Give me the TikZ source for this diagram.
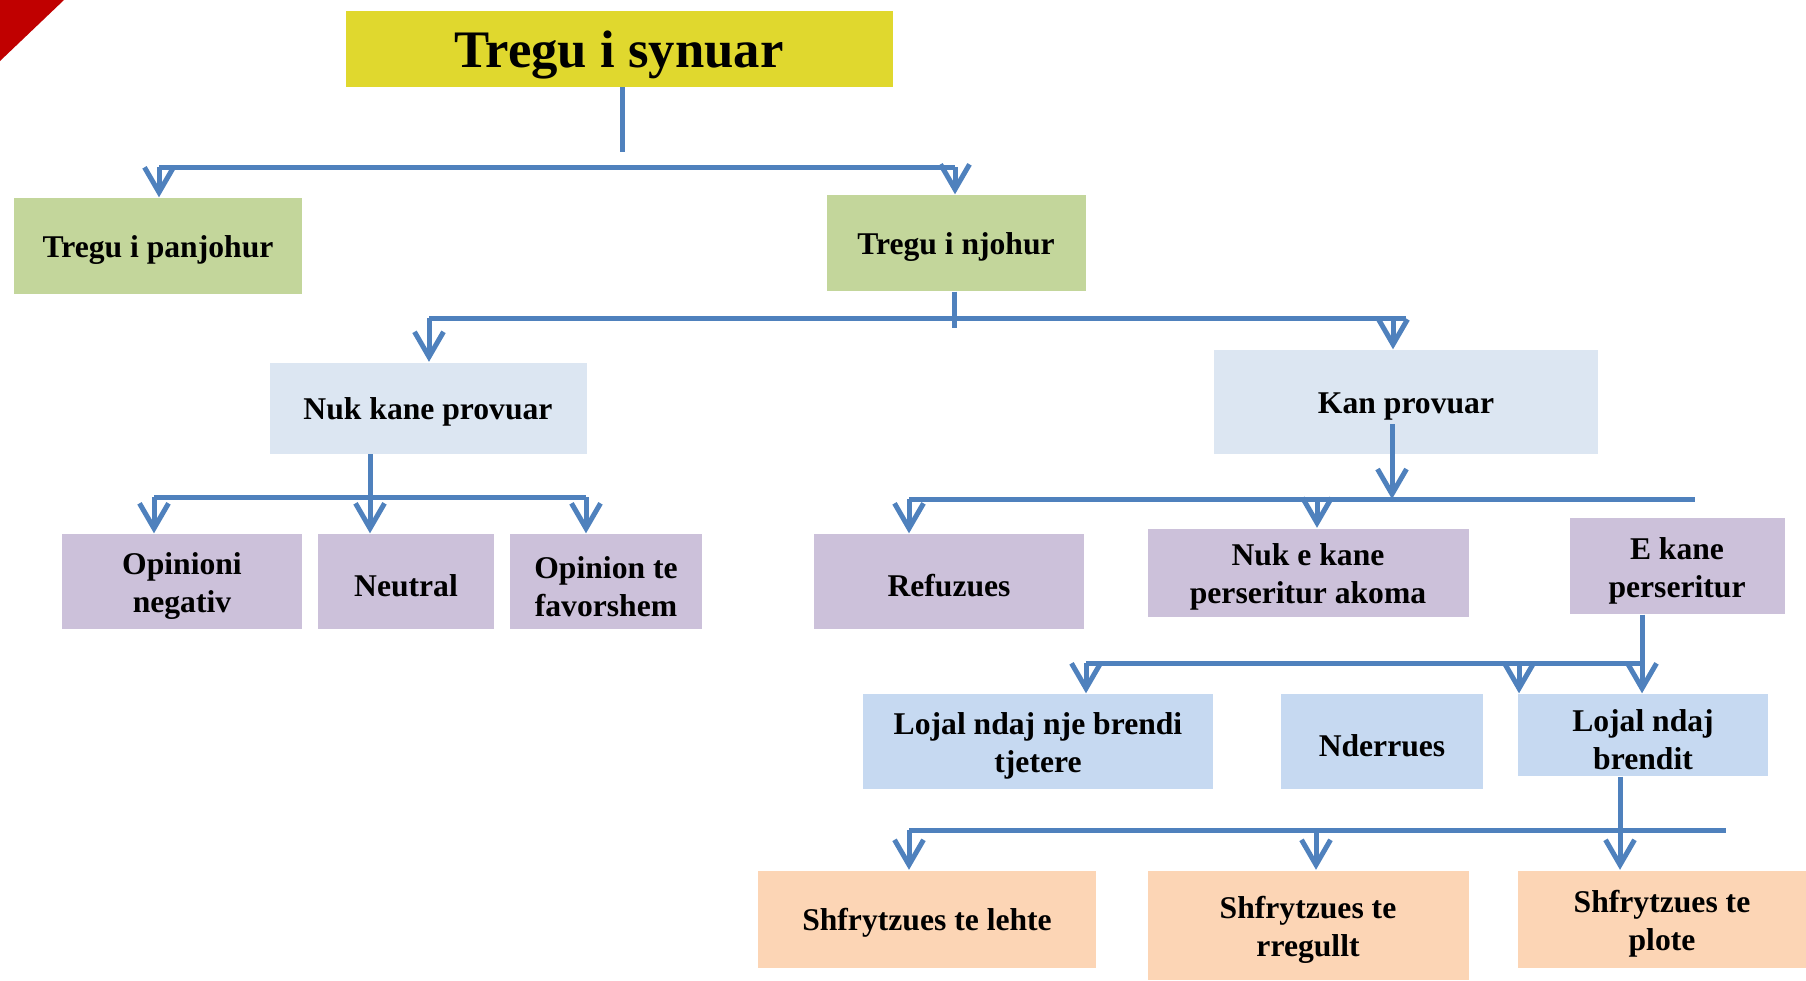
\documentclass[tikz,border=0pt]{standalone}
\usepackage{fontspec}
\setmainfont{Liberation Serif}
\usepackage{tikz}
\usetikzlibrary{arrows.meta}
\definecolor{lineblue}{RGB}{79,129,189}
\definecolor{titleyellow}{RGB}{224,216,46}
\definecolor{olivegreen}{RGB}{195,214,155}
\definecolor{paleblue}{RGB}{220,230,242}
\definecolor{lilac}{RGB}{204,193,218}
\definecolor{skyblue}{RGB}{198,217,241}
\definecolor{peach}{RGB}{252,213,181}
\definecolor{cornerred}{RGB}{192,0,0}
\newcommand\lift{\rule{0pt}{1em}}

\begin{document}
\begin{tikzpicture}[x=0.1mm, y=-0.1mm,
  box/.style={rectangle, inner sep=0pt, align=center,
              execute at begin node={\rule{0pt}{0.95em}},
              font=\fontsize{9}{10.8}\selectfont\bfseries},
  top/.style={box, fill=titleyellow, font=\fontsize{15}{18}\selectfont\bfseries},
  market/.style={box, fill=olivegreen},
  tried/.style={box, fill=paleblue},
  opin/.style={box, fill=lilac},
  loyal/.style={box, fill=skyblue},
  user/.style={box, fill=peach},
  ln/.style={line width=0.5mm, draw=lineblue},
  arr/.style={-{Straight Barb[length=2.5mm, width=2.9mm]}, line width=0.5mm, draw=lineblue}
]
\useasboundingbox (0,0) rectangle (1806,980);
\fill[cornerred] (0,0) -- (64,0) -- (0,61) -- cycle;

\node[top, minimum width=54.7mm, minimum height=7.6mm] (title) at (619,48.5) {Tregu i synuar};

\node[market, minimum width=28.8mm, minimum height=9.6mm] (panjohur) at (158,246) {Tregu i panjohur};
\node[market, minimum width=25.9mm, minimum height=9.6mm] (njohur)   at (956,243) {Tregu i njohur};

\node[tried, minimum width=31.7mm, minimum height=9.1mm]  (nukprov) at (428,408)  {Nuk kane provuar};
\node[tried, minimum width=38.4mm, minimum height=10.4mm] (kanprov) at (1406,402) {Kan provuar};

\node[opin, minimum width=24mm,   minimum height=9.5mm] (negativ) at (182,581.5)  {\lift Opinioni\\negativ};
\node[opin, minimum width=17.6mm, minimum height=9.5mm] (neutral) at (406,581.5)  {Neutral};
\node[opin, minimum width=19.2mm, minimum height=9.5mm] (favor)   at (606,581.5)  {\lift Opinion te\\favorshem};
\node[opin, minimum width=27mm,   minimum height=9.5mm] (refuz)   at (949,581.5)  {Refuzues};
\node[opin, minimum width=32.1mm, minimum height=8.8mm] (akoma)   at (1308,572.5) {\lift Nuk e kane\\perseritur akoma};
\node[opin, minimum width=21.5mm, minimum height=9.6mm] (perser)  at (1677,566)   {\lift E kane\\perseritur};

\node[loyal, minimum width=35mm,   minimum height=9.5mm] (tjeter)  at (1038,741.5) {\lift Lojal ndaj nje brendi\\tjetere};
\node[loyal, minimum width=20.2mm, minimum height=9.5mm] (nderr)   at (1382,741.5) {Nderrues};
\node[loyal, minimum width=25mm,   minimum height=8.2mm] (brendit) at (1643,735)   {\lift Lojal ndaj\\brendit};

\node[user, minimum width=33.8mm, minimum height=9.7mm]  (lehte)    at (927,919)  {Shfrytzues te lehte};
\node[user, minimum width=32.1mm, minimum height=10.9mm] (rregullt) at (1308,925) {\lift Shfrytzues te\\rregullt};
\node[user, minimum width=28.8mm, minimum height=9.7mm]  (plote)    at (1662,919) {\lift Shfrytzues te\\plote};

% level 1
\coordinate (s1)  at (622,152);
\coordinate (b1l) at (159,167);
\coordinate (b1r) at (955,167);
\draw[ln] (title.south -| s1) -- (s1);
\draw[ln] (b1l) -- (b1r);
\draw[arr] (b1l) -- (b1l |- panjohur.north);
\draw[arr] (b1r) -- (b1r |- njohur.north);

% level 2
\coordinate (s2)  at (954,328);
\coordinate (b2l) at (429,318);
\coordinate (b2r) at (1406,318);
\coordinate (a2r) at (1393,318);
\draw[ln] (njohur.south -| s2) -- (s2);
\draw[ln] (b2l) -- (b2r);
\draw[arr] (b2l) -- (b2l |- nukprov.north);
\draw[arr] (a2r) -- (a2r |- kanprov.north);

% level 3, nuk kane provuar
\coordinate (b3l) at (154,497);
\coordinate (b3m) at (370,497);
\coordinate (b3r) at (586,497);
\draw[ln] (b3l) -- (b3r);
\draw[arr] (b3m |- nukprov.south) -- (b3m |- neutral.north);
\draw[arr] (b3l) -- (b3l |- negativ.north);
\draw[arr] (b3r) -- (b3r |- favor.north);

% level 3, kan provuar
\coordinate (k1)  at (1392,424);
\coordinate (b4m) at (1392,499);
\coordinate (b4l) at (909,499);
\coordinate (b4r) at (1695,499);
\coordinate (a4m) at (1317,499);
\draw[ln] (b4l) -- (b4r);
\draw[arr] (k1) -- (b4m);
\draw[arr] (b4l) -- (b4l |- refuz.north);
\draw[arr] (a4m) -- (a4m |- akoma.north);

% level 4
\coordinate (b5l) at (1086,663);
\coordinate (b5r) at (1642,663);
\coordinate (a5m) at (1519,663);
\draw[ln] (b5l) -- (b5r);
\draw[arr] (b5r |- perser.south) -- (b5r |- brendit.north);
\draw[arr] (b5l) -- (b5l |- tjeter.north);
\draw[arr] (a5m) -- (a5m |- brendit.north);

% level 5
\coordinate (b6l) at (909,830);
\coordinate (b6m) at (1620,830);
\coordinate (b6r) at (1726,830);
\coordinate (a6m) at (1316,830);
\draw[ln] (b6l) -- (b6r);
\draw[arr] (b6m |- brendit.south) -- (b6m |- plote.north);
\draw[arr] (b6l) -- (b6l |- lehte.north);
\draw[arr] (a6m) -- (a6m |- rregullt.north);

\end{tikzpicture}
\end{document}
